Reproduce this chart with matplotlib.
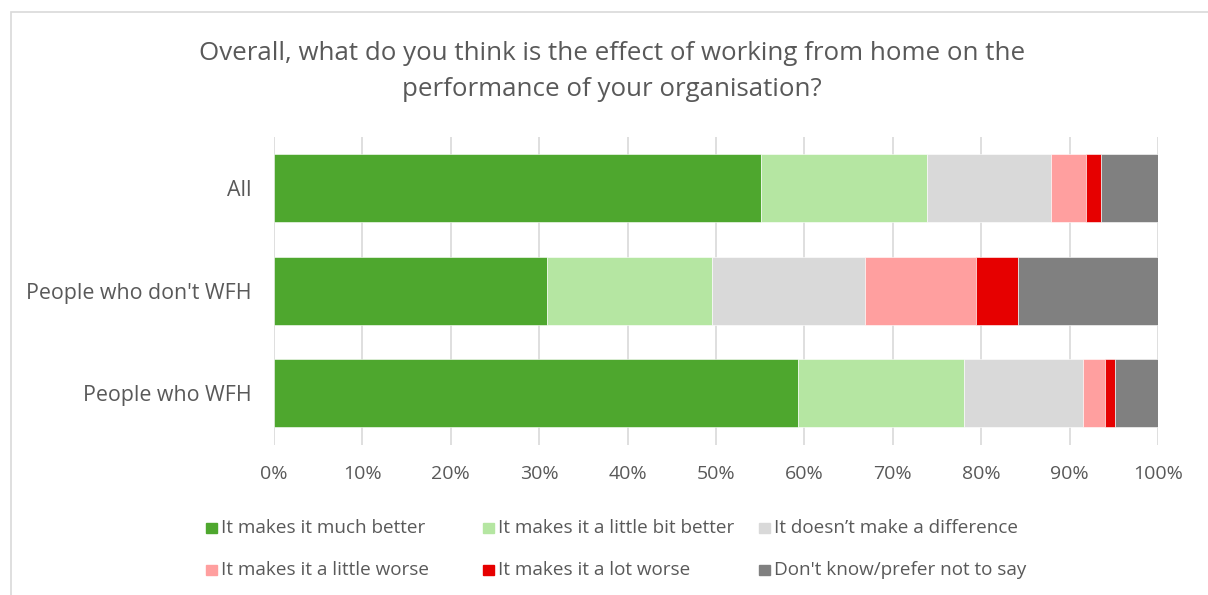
import matplotlib
matplotlib.use("Agg")
import matplotlib.pyplot as plt
from matplotlib.patches import Rectangle
import numpy as np

plt.rcParams['font.family'] = ['Open Sans', 'DejaVu Sans']

categories = ["All", "People who don't WFH", "People who WFH"]
series_names = [
    "It makes it much better",
    "It makes it a little bit better",
    "It doesn\u2019t make a difference",
    "It makes it a little worse",
    "It makes it a lot worse",
    "Don't know/prefer not to say",
]
much_better = [55.1, 30.9, 59.3]
little_better = [18.8, 18.6, 18.7]
no_difference = [14.0, 17.4, 13.5]
little_worse = [3.9, 12.5, 2.5]
lot_worse = [1.7, 4.8, 1.1]
dont_know = [6.5, 15.8, 4.9]
series_values = [much_better, little_better, no_difference,
                 little_worse, lot_worse, dont_know]
colors = ["#4EA72E", "#B5E6A2", "#D9D9D9", "#FF9F9F", "#E60000", "#808080"]
tick_values = np.arange(0, 101, 10)
tick_labels = [f"{v}%" for v in tick_values]

W, H = 1208, 595
fig = plt.figure(figsize=(W / 100, H / 100), dpi=100)
text_color = "#595959"

# chart frame
fig.add_artist(Rectangle((11 / W, -0.1), 1.2, 1 - 12 / H + 0.1,
                         transform=fig.transFigure, fill=False,
                         edgecolor="#D9D9D9", linewidth=1.2))

left, right, top, bottom = 274, 1158, 137, 444.5
ax = fig.add_axes([left / W, 1 - bottom / H, (right - left) / W, (bottom - top) / H])

y = np.arange(len(categories))
cum = np.zeros(len(categories))
for name, vals, c in zip(series_names, series_values, colors):
    vals = np.array(vals)
    ax.barh(y, vals, left=cum, height=0.66, color=c, label=name,
            edgecolor="white", linewidth=0.4, zorder=3)
    cum += vals

ax.set_xlim(0, 100)
ax.set_ylim(2.5, -0.5)
ax.set_yticks(y)
ax.set_yticklabels(categories, fontsize=15.4, color=text_color)
ax.set_xticks(tick_values)
ax.set_xticklabels(tick_labels, fontsize=14, color=text_color)
ax.tick_params(axis="y", length=0, pad=16)
ax.tick_params(axis="x", length=0, pad=15)
ax.grid(axis="x", color="#D9D9D9", linewidth=1.2, zorder=0)
for s in ax.spines.values():
    s.set_visible(False)

fig.text(612 / W, 1 - 53 / H, "Overall, what do you think is the effect of working from home on the",
         ha="center", va="center", fontsize=18.6, color=text_color)
fig.text(612 / W, 1 - 89 / H, "performance of your organisation?",
         ha="center", va="center", fontsize=18.6, color=text_color)

# legend laid out in two rows of three
for i, (name, c) in enumerate(zip(series_names, colors)):
    row, col = divmod(i, 3)
    x0 = 206 + col * 276.5
    yc = 528 + row * 42
    fig.add_artist(Rectangle((x0 / W, 1 - (yc + 5) / H), 11 / W, 10.5 / H,
                             transform=fig.transFigure, color=c))
    fig.text((x0 + 15) / W, 1 - yc / H, name, ha="left", va="center",
             fontsize=13.6, color=text_color)

fig.savefig("out.png", dpi=100)
